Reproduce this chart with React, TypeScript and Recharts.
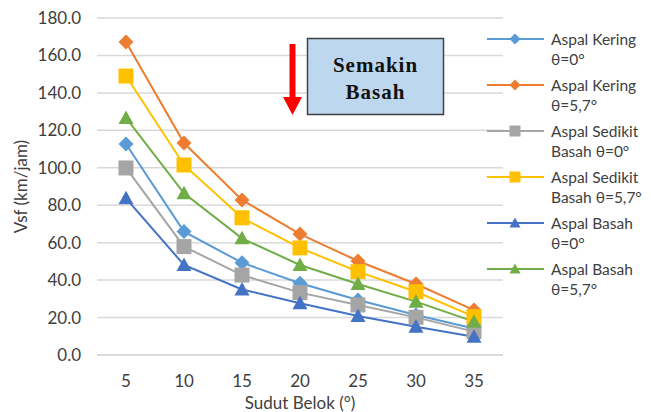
import { LineChart, Line, XAxis, YAxis, CartesianGrid } from 'recharts';

// sudut belok (derajat)
const sudut = [5, 10, 15, 20, 25, 30, 35];

// Vsf (km/jam) per kondisi aspal
const keringNol = [112.7, 65.9, 49.3, 38.3, 29.4, 21.4, 14.2];
const keringMiring = [167.2, 113.2, 82.8, 64.6, 50.2, 37.9, 24.0];
const sedikitNol = [99.9, 57.9, 42.7, 33.3, 26.7, 20.1, 12.5];
const sedikitMiring = [149.0, 101.5, 73.3, 57.2, 44.5, 33.8, 20.5];
const basahNol = [83.7, 48.1, 35.0, 27.6, 20.8, 15.1, 9.8];
const basahMiring = [126.6, 86.4, 62.3, 48.1, 37.9, 28.5, 17.8];

const yTicks = [0, 20, 40, 60, 80, 100, 120, 140, 160, 180];

type Shape = 'diamond' | 'square' | 'triangle';

const series: { key: string; nama: string[]; color: string; shape: Shape; values: number[] }[] = [
  { key: 'kn', nama: ['Aspal Kering', 'θ=0°'], color: '#5B9BD5', shape: 'diamond', values: keringNol },
  { key: 'km', nama: ['Aspal Kering', 'θ=5,7°'], color: '#ED7D31', shape: 'diamond', values: keringMiring },
  { key: 'sn', nama: ['Aspal Sedikit', 'Basah θ=0°'], color: '#A5A5A5', shape: 'square', values: sedikitNol },
  { key: 'sm', nama: ['Aspal Sedikit', 'Basah θ=5,7°'], color: '#FFC000', shape: 'square', values: sedikitMiring },
  { key: 'bn', nama: ['Aspal Basah', 'θ=0°'], color: '#4472C4', shape: 'triangle', values: basahNol },
  { key: 'bm', nama: ['Aspal Basah', 'θ=5,7°'], color: '#70AD47', shape: 'triangle', values: basahMiring },
];

const data = sudut.map((s, i) => {
  const row: Record<string, number> = { sudut: s };
  series.forEach((se) => (row[se.key] = se.values[i]));
  return row;
});

const FONT = 'Lato, "Open Sans", sans-serif';
const TEXT = '#404040';

function Marker({ shape, x, y, r, color }: { shape: Shape; x: number; y: number; r: number; color: string }) {
  if (shape === 'diamond') {
    return <polygon points={`${x},${y - r} ${x + r},${y} ${x},${y + r} ${x - r},${y}`} fill={color} />;
  }
  if (shape === 'square') {
    return <rect x={x - r} y={y - r} width={r * 2} height={r * 2} fill={color} />;
  }
  return <polygon points={`${x},${y - r} ${x + r},${y + r * 0.8} ${x - r},${y + r * 0.8}`} fill={color} />;
}

const makeDot = (shape: Shape, color: string) => (props: any) => {
  const { cx, cy, index } = props;
  if (cx == null || cy == null) return <g key={index} />;
  return <Marker key={index} shape={shape} x={cx} y={cy} r={7.5} color={color} />;
};

function Legenda() {
  return (
    <svg style={{ position: 'absolute', left: 485, top: 28 }} width={166} height={300}>
      {series.map((se, i) => {
        const y = 11 + i * 46;
        return (
          <g key={se.key}>
            <line x1={2} x2={59} y1={y} y2={y} stroke={se.color} strokeWidth={2} />
            <Marker shape={se.shape} x={30} y={y} r={5.5} color={se.color} />
            <text x={66} y={y} fontFamily={FONT} fontSize={15.5} fill={TEXT} dominantBaseline="central">
              <tspan x={66}>{se.nama[0]}</tspan>
              <tspan x={66} dy={19.5}>{se.nama[1]}</tspan>
            </text>
          </g>
        );
      })}
    </svg>
  );
}

export default function App() {
  return (
    <div style={{ position: 'absolute', left: 0, top: 0, width: 651, height: 412, background: '#fff' }}>
      <LineChart
        width={651}
        height={412}
        data={data}
        margin={{ top: 18, right: 148, bottom: 27, left: 0 }}
      >
        <CartesianGrid vertical={false} stroke="#d9d9d9" strokeWidth={1.5} />
        <XAxis
          dataKey="sudut"
          height={30}
          padding={{ left: 29, right: 29 }}
          tickLine={false}
          axisLine={{ stroke: '#d9d9d9', strokeWidth: 1.5 }}
          tickSize={0}
          tickMargin={20}
          tick={{ fontFamily: FONT, fontSize: 17, fill: TEXT }}
          label={{ value: 'Sudut Belok (°)', position: 'insideBottom', offset: -24, fontFamily: FONT, fontSize: 17, fill: TEXT }}
        />
        <YAxis
          width={97}
          domain={[0, 180]}
          ticks={yTicks}
          axisLine={false}
          tickLine={false}
          tickSize={0}
          tickMargin={16}
          tickFormatter={(v: number) => v.toFixed(1)}
          tick={{ fontFamily: FONT, fontSize: 17, fill: TEXT }}
          label={{ value: 'Vsf (km/jam)', angle: -90, position: 'insideLeft', offset: 21, style: { textAnchor: 'middle' }, fontFamily: FONT, fontSize: 17, fill: TEXT }}
        />
        {series.map((se) => (
          <Line
            key={se.key}
            dataKey={se.key}
            stroke={se.color}
            strokeWidth={2}
            dot={makeDot(se.shape, se.color)}
            activeDot={false}
            isAnimationActive={false}
          />
        ))}
      </LineChart>
      <Legenda />
      {/* anotasi: panah merah dan kotak "Semakin Basah" */}
      <svg style={{ position: 'absolute', left: 0, top: 0 }} width={651} height={412}>
        <line x1={292.5} x2={292.5} y1={44} y2={100} stroke="#FF0000" strokeWidth={6} />
        <polygon points="283,97 302,97 292.5,115" fill="#FF0000" />
        <rect x={307.5} y={38.5} width={136} height={76} fill="#BDD7EE" stroke="#404040" strokeWidth={1.5} />
        <text x={375.5} y={72} textAnchor="middle" fontFamily='"Liberation Serif", serif' fontWeight="bold" fontSize={21} letterSpacing={1} fill="#111">
          Semakin
        </text>
        <text x={375.5} y={99} textAnchor="middle" fontFamily='"Liberation Serif", serif' fontWeight="bold" fontSize={21} letterSpacing={1} fill="#111">
          Basah
        </text>
      </svg>
    </div>
  );
}
